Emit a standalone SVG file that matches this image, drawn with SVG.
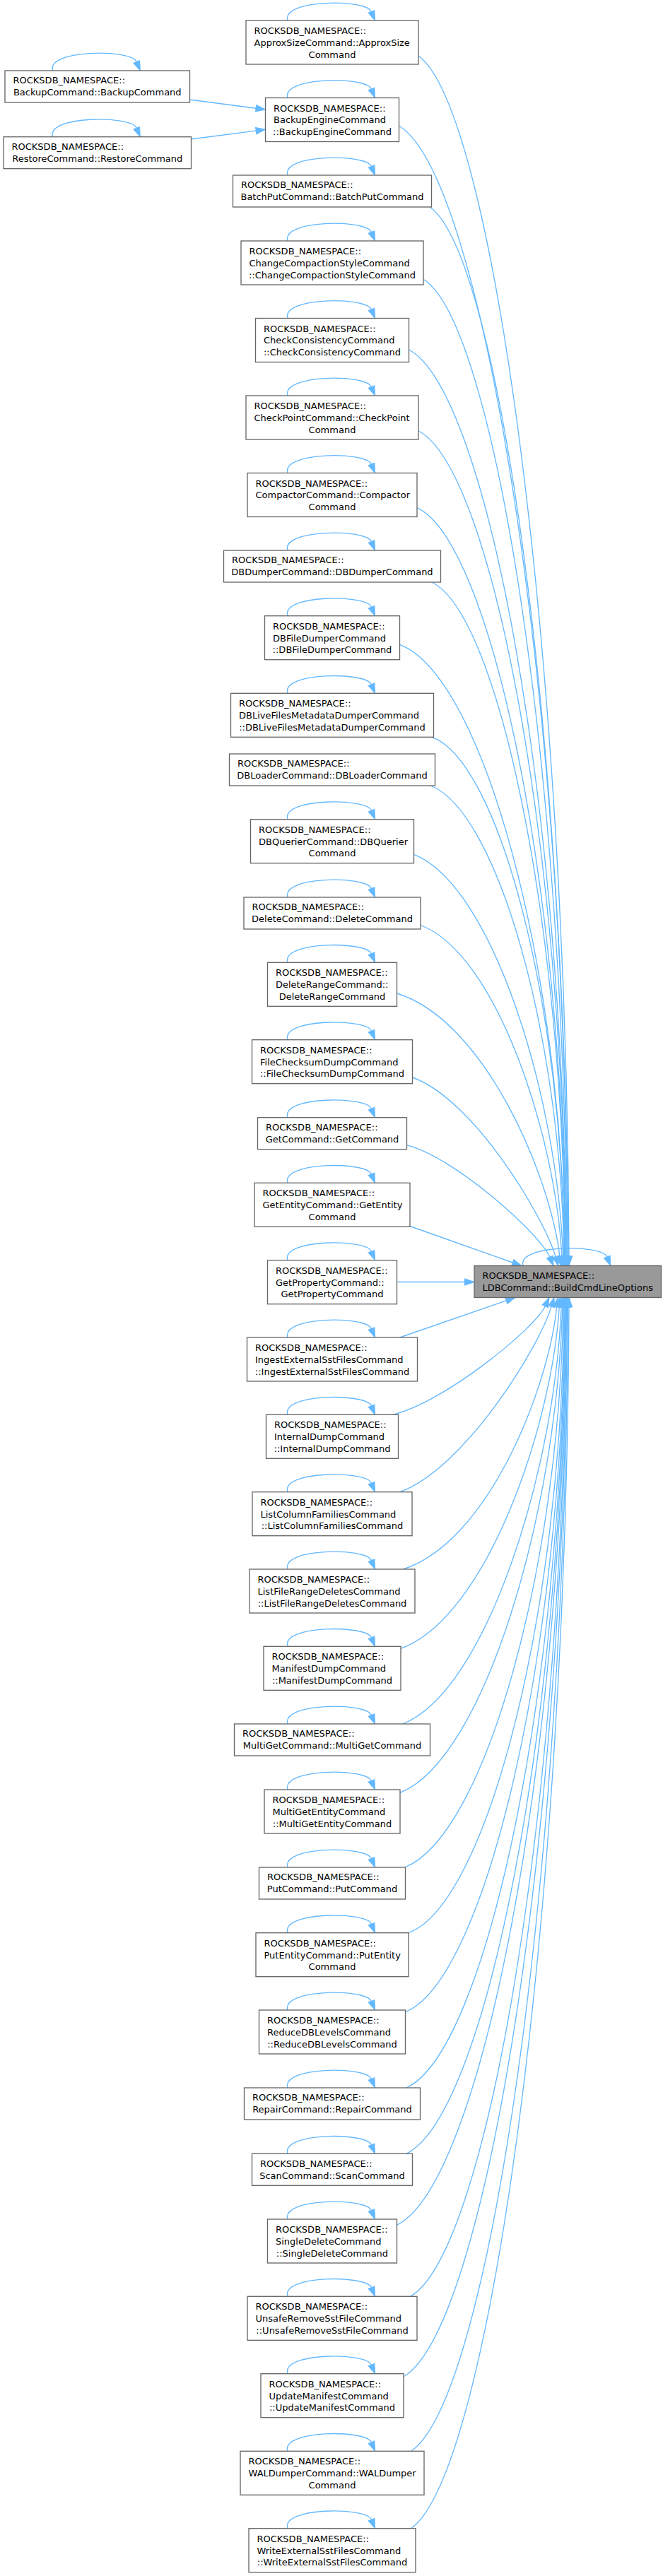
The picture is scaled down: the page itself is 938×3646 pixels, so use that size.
<svg xmlns="http://www.w3.org/2000/svg" width="938" height="3646" viewBox="0 0 938 3646">
<defs>
<marker id="ah" viewBox="0 0 13.5 9.4" refX="0" refY="4.7" markerWidth="13.5" markerHeight="9.4" markerUnits="userSpaceOnUse" orient="auto" overflow="visible"><path d="M0,0 L13.5,4.7 L0,9.4 z" fill="#63b8ff" stroke="#63b8ff" stroke-width="1"/></marker>
</defs>
<style>
.n rect{fill:#ffffff;stroke:#666666;stroke-width:1.33}
.m rect{fill:#999999;stroke:#666666;stroke-width:1.33}
text{font-family:"DejaVu Sans","Liberation Sans",sans-serif;font-size:13px;fill:#000000}
.c{text-anchor:middle}
.e{fill:none;stroke:#63b8ff;stroke-width:1.33;marker-end:url(#ah)}
</style>
<rect x="0" y="0" width="938" height="3646" fill="#ffffff"/>
<g id="connectors">
<path class="e" d="M268.2,141 L362.1,153.25"/>
<path class="e" d="M270,197 L362.1,185.05"/>
<path class="e" d="M592,79 C698.5,156.1 801.8,935.2 805,1778"/>
<path class="e" d="M564.5,178 C684.3,250.6 800.4,984.7 804,1778"/>
<path class="e" d="M608,293 C705.5,360.4 800.1,1042.2 803,1778"/>
<path class="e" d="M599,395.3 C700.5,458.1 799,1093.4 802,1778"/>
<path class="e" d="M578.5,495 C689.8,553.3 797.7,1143.2 801,1778"/>
<path class="e" d="M592,610 C696.3,663.2 797.4,1200.7 800.5,1778"/>
<path class="e" d="M590,718.7 C695,767 796.8,1255.1 800,1778"/>
<path class="e" d="M610.4,824 C705,867.5 796.7,1307.7 799.5,1778"/>
<path class="e" d="M565.5,912.3 C683.4,956.7 794.4,1366.8 798.9,1778"/>
<path class="e" d="M611.2,1043.3 C704.9,1077 795.7,1417.4 798.4,1778"/>
<path class="e" d="M609.2,1112 C705.3,1149.4 793.7,1472.3 797.8,1778"/>
<path class="e" d="M585.5,1209.3 C697,1252.9 788.7,1554 796.5,1778"/>
<path class="e" d="M595,1309.5 C702.3,1349.7 786.2,1607.5 794.8,1778"/>
<path class="e" d="M561.5,1406 C686.8,1444.6 778.9,1666.2 791.9,1778.1"/>
<path class="e" d="M583.5,1525 C670.2,1555.6 769.3,1722.2 786.1,1778.6"/>
<path class="e" d="M575.5,1620.7 C646.1,1639.5 764.3,1747.1 777.8,1779.1"/>
<path class="e" d="M580,1735.5 L725.3,1787"/>
<path class="e" d="M561.5,1814.5 L657.5,1814.5"/>
<path class="e" d="M565.6,1893 L716.2,1840.9"/>
<path class="e" d="M555.7,2002.3 C630.9,1983.8 757.1,1879.5 771.3,1848.8"/>
<path class="e" d="M565.6,2111.7 C655.8,2079.8 762.4,1907.9 780.1,1849.4"/>
<path class="e" d="M570.4,2221 C690.4,2182.8 776.1,1964.8 787.6,1849.9"/>
<path class="e" d="M566.8,2333.3 C688.2,2289.7 780.7,2019.2 791.2,1850"/>
<path class="e" d="M569.6,2440 C688.6,2393.3 785.3,2079.1 794,1850"/>
<path class="e" d="M566,2537.3 C685.8,2489.9 788.3,2137.7 795.7,1850"/>
<path class="e" d="M572.4,2643 C686.7,2598.3 791.8,2215.1 796.8,1850"/>
<path class="e" d="M578,2735.7 C688,2695.2 794.7,2286.1 798,1850"/>
<path class="e" d="M573.5,2847.7 C686.3,2802.2 795.6,2342.1 799,1850"/>
<path class="e" d="M574.8,2955 C687.2,2904.2 796.1,2395.5 799.5,1850"/>
<path class="e" d="M574.8,3048.3 C687.4,2993.5 796.6,2442.3 800,1850"/>
<path class="e" d="M561.5,3149.3 C681.3,3090.2 797.4,2492.9 801,1850"/>
<path class="e" d="M580.7,3250.3 C691.1,3186.4 798.2,2543.3 801.5,1850"/>
<path class="e" d="M571,3364 C686.8,3295.3 799,2600.3 802.5,1850"/>
<path class="e" d="M581.5,3469.3 C692.5,3395.5 800.2,2652.8 803.5,1850"/>
<path class="e" d="M581.5,3578.7 C693.3,3499.8 801.6,2707.4 805,1850"/>
<g id="selfloops">
<path class="e" transform="translate(74.75,100)" d="M0,0 C-10,-30 111,-31 118.5,-12.5"/>
<path class="e" transform="translate(74.75,193.7)" d="M0,0 C-10,-30 111,-31 118.5,-12.5"/>
<path class="e" transform="translate(740.25,1791.5)" d="M0,0 C-10,-30 111,-31 118.5,-12.5"/>
<path class="e" transform="translate(407,29)" d="M0,0 C-10,-30 111,-31 118.5,-12.5"/>
<path class="e" transform="translate(407,138.5)" d="M0,0 C-10,-30 111,-31 118.5,-12.5"/>
<path class="e" transform="translate(407,248)" d="M0,0 C-10,-30 111,-31 118.5,-12.5"/>
<path class="e" transform="translate(407,341)" d="M0,0 C-10,-30 111,-31 118.5,-12.5"/>
<path class="e" transform="translate(407,450.5)" d="M0,0 C-10,-30 111,-31 118.5,-12.5"/>
<path class="e" transform="translate(407,560)" d="M0,0 C-10,-30 111,-31 118.5,-12.5"/>
<path class="e" transform="translate(407,669.5)" d="M0,0 C-10,-30 111,-31 118.5,-12.5"/>
<path class="e" transform="translate(407,779)" d="M0,0 C-10,-30 111,-31 118.5,-12.5"/>
<path class="e" transform="translate(407,871.7)" d="M0,0 C-10,-30 111,-31 118.5,-12.5"/>
<path class="e" transform="translate(407,981.3)" d="M0,0 C-10,-30 111,-31 118.5,-12.5"/>
<path class="e" transform="translate(407,1159.7)" d="M0,0 C-10,-30 111,-31 118.5,-12.5"/>
<path class="e" transform="translate(407,1270)" d="M0,0 C-10,-30 111,-31 118.5,-12.5"/>
<path class="e" transform="translate(407,1362.3)" d="M0,0 C-10,-30 111,-31 118.5,-12.5"/>
<path class="e" transform="translate(407,1471.7)" d="M0,0 C-10,-30 111,-31 118.5,-12.5"/>
<path class="e" transform="translate(407,1581.7)" d="M0,0 C-10,-30 111,-31 118.5,-12.5"/>
<path class="e" transform="translate(407,1674.3)" d="M0,0 C-10,-30 111,-31 118.5,-12.5"/>
<path class="e" transform="translate(407,1783.7)" d="M0,0 C-10,-30 111,-31 118.5,-12.5"/>
<path class="e" transform="translate(407,1893)" d="M0,0 C-10,-30 111,-31 118.5,-12.5"/>
<path class="e" transform="translate(407,2002.3)" d="M0,0 C-10,-30 111,-31 118.5,-12.5"/>
<path class="e" transform="translate(407,2111.7)" d="M0,0 C-10,-30 111,-31 118.5,-12.5"/>
<path class="e" transform="translate(407,2221)" d="M0,0 C-10,-30 111,-31 118.5,-12.5"/>
<path class="e" transform="translate(407,2330.3)" d="M0,0 C-10,-30 111,-31 118.5,-12.5"/>
<path class="e" transform="translate(407,2440)" d="M0,0 C-10,-30 111,-31 118.5,-12.5"/>
<path class="e" transform="translate(407,2533)" d="M0,0 C-10,-30 111,-31 118.5,-12.5"/>
<path class="e" transform="translate(407,2643)" d="M0,0 C-10,-30 111,-31 118.5,-12.5"/>
<path class="e" transform="translate(407,2735.7)" d="M0,0 C-10,-30 111,-31 118.5,-12.5"/>
<path class="e" transform="translate(407,2845)" d="M0,0 C-10,-30 111,-31 118.5,-12.5"/>
<path class="e" transform="translate(407,2955)" d="M0,0 C-10,-30 111,-31 118.5,-12.5"/>
<path class="e" transform="translate(407,3048.3)" d="M0,0 C-10,-30 111,-31 118.5,-12.5"/>
<path class="e" transform="translate(407,3141)" d="M0,0 C-10,-30 111,-31 118.5,-12.5"/>
<path class="e" transform="translate(407,3250.3)" d="M0,0 C-10,-30 111,-31 118.5,-12.5"/>
<path class="e" transform="translate(407,3359.7)" d="M0,0 C-10,-30 111,-31 118.5,-12.5"/>
<path class="e" transform="translate(407,3469.3)" d="M0,0 C-10,-30 111,-31 118.5,-12.5"/>
<path class="e" transform="translate(407,3578.7)" d="M0,0 C-10,-30 111,-31 118.5,-12.5"/>
</g>
</g>
<g id="node_main" class="m"><rect x="671" y="1791.5" width="264.5" height="45"/><text x="682.5" y="1809.9">ROCKSDB_NAMESPACE::</text><text class="c" x="803.25" y="1826.7">LDBCommand::BuildCmdLineOptions</text></g>
<g id="node_BackupCommand" class="n"><rect x="7" y="100" width="261.5" height="45"/><text x="18.5" y="118.4">ROCKSDB_NAMESPACE::</text><text class="c" x="137.75" y="135.2">BackupCommand::BackupCommand</text></g>
<g id="node_RestoreCommand" class="n"><rect x="5" y="193.7" width="265.5" height="45"/><text x="16.5" y="212.1">ROCKSDB_NAMESPACE::</text><text class="c" x="137.75" y="228.9">RestoreCommand::RestoreCommand</text></g>
<g id="node_ApproxSize" class="n"><rect x="348" y="29" width="244" height="62"/><text x="359.5" y="48">ROCKSDB_NAMESPACE::</text><text x="359.5" y="64.8">ApproxSizeCommand::ApproxSize</text><text class="c" x="470" y="81.6">Command</text></g>
<g id="node_BackupEngine" class="n"><rect x="375.5" y="138.5" width="189" height="62"/><text x="387" y="157.5">ROCKSDB_NAMESPACE::</text><text x="387" y="174.3">BackupEngineCommand</text><text class="c" x="470" y="191.1">::BackupEngineCommand</text></g>
<g id="node_BatchPut" class="n"><rect x="329.5" y="248" width="281" height="45"/><text x="341" y="266.4">ROCKSDB_NAMESPACE::</text><text class="c" x="470" y="283.2">BatchPutCommand::BatchPutCommand</text></g>
<g id="node_ChangeCompactionStyle" class="n"><rect x="341" y="341" width="258" height="62"/><text x="352.5" y="360">ROCKSDB_NAMESPACE::</text><text x="352.5" y="376.8">ChangeCompactionStyleCommand</text><text class="c" x="470" y="393.6">::ChangeCompactionStyleCommand</text></g>
<g id="node_CheckConsistency" class="n"><rect x="361.5" y="450.5" width="217" height="62"/><text x="373" y="469.5">ROCKSDB_NAMESPACE::</text><text x="373" y="486.3">CheckConsistencyCommand</text><text class="c" x="470" y="503.1">::CheckConsistencyCommand</text></g>
<g id="node_CheckPoint" class="n"><rect x="348" y="560" width="244" height="62"/><text x="359.5" y="579">ROCKSDB_NAMESPACE::</text><text x="359.5" y="595.8">CheckPointCommand::CheckPoint</text><text class="c" x="470" y="612.6">Command</text></g>
<g id="node_Compactor" class="n"><rect x="350" y="669.5" width="240" height="62"/><text x="361.5" y="688.5">ROCKSDB_NAMESPACE::</text><text x="361.5" y="705.3">CompactorCommand::Compactor</text><text class="c" x="470" y="722.1">Command</text></g>
<g id="node_DBDumper" class="n"><rect x="316.5" y="779" width="307" height="45"/><text x="328" y="797.4">ROCKSDB_NAMESPACE::</text><text class="c" x="470" y="814.2">DBDumperCommand::DBDumperCommand</text></g>
<g id="node_DBFileDumper" class="n"><rect x="374.5" y="871.7" width="191" height="62"/><text x="386" y="890.7">ROCKSDB_NAMESPACE::</text><text x="386" y="907.5">DBFileDumperCommand</text><text class="c" x="470" y="924.3">::DBFileDumperCommand</text></g>
<g id="node_DBLiveFilesMetadataDumper" class="n"><rect x="326.5" y="981.3" width="287" height="62"/><text x="338" y="1000.3">ROCKSDB_NAMESPACE::</text><text x="338" y="1017.1">DBLiveFilesMetadataDumperCommand</text><text class="c" x="470" y="1033.9">::DBLiveFilesMetadataDumperCommand</text></g>
<g id="node_DBLoader" class="n"><rect x="324.5" y="1067" width="291" height="45"/><text x="336" y="1085.4">ROCKSDB_NAMESPACE::</text><text class="c" x="470" y="1102.2">DBLoaderCommand::DBLoaderCommand</text></g>
<g id="node_DBQuerier" class="n"><rect x="354.5" y="1159.7" width="231" height="62"/><text x="366" y="1178.7">ROCKSDB_NAMESPACE::</text><text x="366" y="1195.5">DBQuerierCommand::DBQuerier</text><text class="c" x="470" y="1212.3">Command</text></g>
<g id="node_Delete" class="n"><rect x="345" y="1270" width="250" height="45"/><text x="356.5" y="1288.4">ROCKSDB_NAMESPACE::</text><text class="c" x="470" y="1305.2">DeleteCommand::DeleteCommand</text></g>
<g id="node_DeleteRange" class="n"><rect x="378.5" y="1362.3" width="183" height="62"/><text x="390" y="1381.3">ROCKSDB_NAMESPACE::</text><text x="390" y="1398.1">DeleteRangeCommand::</text><text class="c" x="470" y="1414.9">DeleteRangeCommand</text></g>
<g id="node_FileChecksumDump" class="n"><rect x="356.5" y="1471.7" width="227" height="62"/><text x="368" y="1490.7">ROCKSDB_NAMESPACE::</text><text x="368" y="1507.5">FileChecksumDumpCommand</text><text class="c" x="470" y="1524.3">::FileChecksumDumpCommand</text></g>
<g id="node_Get" class="n"><rect x="364.5" y="1581.7" width="211" height="45"/><text x="376" y="1600.1">ROCKSDB_NAMESPACE::</text><text class="c" x="470" y="1616.9">GetCommand::GetCommand</text></g>
<g id="node_GetEntity" class="n"><rect x="360" y="1674.3" width="220" height="62"/><text x="371.5" y="1693.3">ROCKSDB_NAMESPACE::</text><text x="371.5" y="1710.1">GetEntityCommand::GetEntity</text><text class="c" x="470" y="1726.9">Command</text></g>
<g id="node_GetProperty" class="n"><rect x="378.5" y="1783.7" width="183" height="62"/><text x="390" y="1802.7">ROCKSDB_NAMESPACE::</text><text x="390" y="1819.5">GetPropertyCommand::</text><text class="c" x="470" y="1836.3">GetPropertyCommand</text></g>
<g id="node_IngestExternalSstFiles" class="n"><rect x="349.5" y="1893" width="241" height="62"/><text x="361" y="1912">ROCKSDB_NAMESPACE::</text><text x="361" y="1928.8">IngestExternalSstFilesCommand</text><text class="c" x="470" y="1945.6">::IngestExternalSstFilesCommand</text></g>
<g id="node_InternalDump" class="n"><rect x="376.5" y="2002.3" width="187" height="62"/><text x="388" y="2021.3">ROCKSDB_NAMESPACE::</text><text x="388" y="2038.1">InternalDumpCommand</text><text class="c" x="470" y="2054.9">::InternalDumpCommand</text></g>
<g id="node_ListColumnFamilies" class="n"><rect x="357" y="2111.7" width="226" height="62"/><text x="368.5" y="2130.7">ROCKSDB_NAMESPACE::</text><text x="368.5" y="2147.5">ListColumnFamiliesCommand</text><text class="c" x="470" y="2164.3">::ListColumnFamiliesCommand</text></g>
<g id="node_ListFileRangeDeletes" class="n"><rect x="353" y="2221" width="234" height="62"/><text x="364.5" y="2240">ROCKSDB_NAMESPACE::</text><text x="364.5" y="2256.8">ListFileRangeDeletesCommand</text><text class="c" x="470" y="2273.6">::ListFileRangeDeletesCommand</text></g>
<g id="node_ManifestDump" class="n"><rect x="373" y="2330.3" width="194" height="62"/><text x="384.5" y="2349.3">ROCKSDB_NAMESPACE::</text><text x="384.5" y="2366.1">ManifestDumpCommand</text><text class="c" x="470" y="2382.9">::ManifestDumpCommand</text></g>
<g id="node_MultiGet" class="n"><rect x="331.5" y="2440" width="277" height="45"/><text x="343" y="2458.4">ROCKSDB_NAMESPACE::</text><text class="c" x="470" y="2475.2">MultiGetCommand::MultiGetCommand</text></g>
<g id="node_MultiGetEntity" class="n"><rect x="374" y="2533" width="192" height="62"/><text x="385.5" y="2552">ROCKSDB_NAMESPACE::</text><text x="385.5" y="2568.8">MultiGetEntityCommand</text><text class="c" x="470" y="2585.6">::MultiGetEntityCommand</text></g>
<g id="node_Put" class="n"><rect x="366.5" y="2643" width="207" height="45"/><text x="378" y="2661.4">ROCKSDB_NAMESPACE::</text><text class="c" x="470" y="2678.2">PutCommand::PutCommand</text></g>
<g id="node_PutEntity" class="n"><rect x="362" y="2735.7" width="216" height="62"/><text x="373.5" y="2754.7">ROCKSDB_NAMESPACE::</text><text x="373.5" y="2771.5">PutEntityCommand::PutEntity</text><text class="c" x="470" y="2788.3">Command</text></g>
<g id="node_ReduceDBLevels" class="n"><rect x="366.5" y="2845" width="207" height="62"/><text x="378" y="2864">ROCKSDB_NAMESPACE::</text><text x="378" y="2880.8">ReduceDBLevelsCommand</text><text class="c" x="470" y="2897.6">::ReduceDBLevelsCommand</text></g>
<g id="node_Repair" class="n"><rect x="345.5" y="2955" width="249" height="45"/><text x="357" y="2973.4">ROCKSDB_NAMESPACE::</text><text class="c" x="470" y="2990.2">RepairCommand::RepairCommand</text></g>
<g id="node_Scan" class="n"><rect x="356.5" y="3048.3" width="227" height="45"/><text x="368" y="3066.7">ROCKSDB_NAMESPACE::</text><text class="c" x="470" y="3083.5">ScanCommand::ScanCommand</text></g>
<g id="node_SingleDelete" class="n"><rect x="378.5" y="3141" width="183" height="62"/><text x="390" y="3160">ROCKSDB_NAMESPACE::</text><text x="390" y="3176.8">SingleDeleteCommand</text><text class="c" x="470" y="3193.6">::SingleDeleteCommand</text></g>
<g id="node_UnsafeRemoveSstFile" class="n"><rect x="350" y="3250.3" width="240" height="62"/><text x="361.5" y="3269.3">ROCKSDB_NAMESPACE::</text><text x="361.5" y="3286.1">UnsafeRemoveSstFileCommand</text><text class="c" x="470" y="3302.9">::UnsafeRemoveSstFileCommand</text></g>
<g id="node_UpdateManifest" class="n"><rect x="369" y="3359.7" width="202" height="62"/><text x="380.5" y="3378.7">ROCKSDB_NAMESPACE::</text><text x="380.5" y="3395.5">UpdateManifestCommand</text><text class="c" x="470" y="3412.3">::UpdateManifestCommand</text></g>
<g id="node_WALDumper" class="n"><rect x="340" y="3469.3" width="260" height="62"/><text x="351.5" y="3488.3">ROCKSDB_NAMESPACE::</text><text x="351.5" y="3505.1">WALDumperCommand::WALDumper</text><text class="c" x="470" y="3521.9">Command</text></g>
<g id="node_WriteExternalSstFiles" class="n"><rect x="352" y="3578.7" width="236" height="62"/><text x="363.5" y="3597.7">ROCKSDB_NAMESPACE::</text><text x="363.5" y="3614.5">WriteExternalSstFilesCommand</text><text class="c" x="470" y="3631.3">::WriteExternalSstFilesCommand</text></g>
</svg>
